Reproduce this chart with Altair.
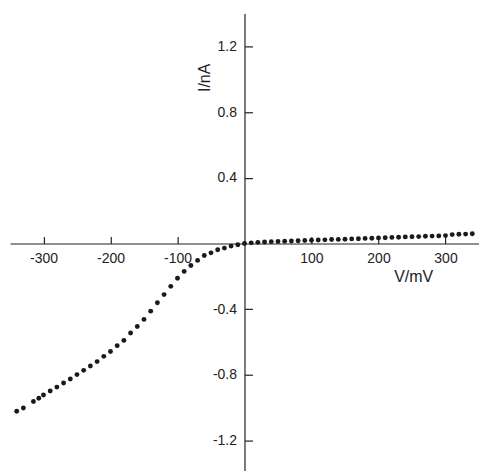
import altair as alt
import pandas as pd

# Voltage (mV) and current (nA)
voltage_mv = [-340, -330, -315, -307, -300, -290, -280, -270, -260, -250,
              -240, -230, -220, -210, -200, -190, -180, -170, -160, -150,
              -140, -130, -120, -110, -100, -90, -80, -70, -60, -50,
              -40, -30, -20, -10, 0,
              10, 20, 30, 40, 50, 60, 70, 80, 90, 100,
              110, 120, 130, 140, 150, 160, 170, 180, 190, 200,
              210, 220, 230, 240, 250, 260, 270, 280, 290, 300,
              310, 320, 330, 340]
current_na = [-1.021, -1.001, -0.962, -0.942, -0.922, -0.898, -0.874, -0.849, -0.825, -0.798,
              -0.772, -0.746, -0.719, -0.687, -0.657, -0.622, -0.590, -0.545, -0.505, -0.462,
              -0.412, -0.361, -0.311, -0.261, -0.212, -0.170, -0.134, -0.103, -0.073, -0.057,
              -0.038, -0.028, -0.016, -0.008, 0.000,
              0.004, 0.007, 0.009, 0.011, 0.012, 0.014, 0.015, 0.017, 0.018, 0.020,
              0.021, 0.022, 0.024, 0.025, 0.026, 0.028, 0.029, 0.031, 0.032, 0.034,
              0.035, 0.037, 0.038, 0.040, 0.041, 0.042, 0.044, 0.045, 0.046, 0.048,
              0.054, 0.056, 0.057, 0.059]

x_ticks = [-300, -200, -100, 100, 200, 300]
y_ticks = [-1.2, -0.8, -0.4, 0.4, 0.8, 1.2]

df = pd.DataFrame({"V": voltage_mv, "I": current_na})

W, H = 470, 461
FONT = "Liberation Sans"

chart = alt.Chart(df).mark_circle(size=24, color="#1a1a1a", opacity=1).encode(
    x=alt.X("V:Q",
            scale=alt.Scale(domain=[-350, 350], nice=False, zero=False),
            axis=alt.Axis(orient="top", offset=-H / 2, values=x_ticks,
                          grid=False, tickSize=7, tickColor="#222", domainColor="#222",
                          domainWidth=1.2, tickWidth=1.2,
                          labelBaseline="top", labelPadding=-15,
                          labelFont=FONT, labelFontSize=14, labelColor="#222",
                          labelExpr="datum.value < 0 ? '-' + format(-datum.value, 'd') : format(datum.value, 'd')",
                          title="V/mV", titleFont=FONT, titleFontSize=16, titleFontWeight="normal",
                          titleColor="#222", titleX=404, titleY=33, titleAlign="center",
                          titleBaseline="middle")),
    y=alt.Y("I:Q",
            scale=alt.Scale(domain=[-1.4, 1.4], nice=False, zero=False),
            axis=alt.Axis(orient="right", offset=-(W / 2), values=y_ticks,
                          grid=False, tickSize=8, tickColor="#222", domainColor="#222",
                          domainWidth=1.2, tickWidth=1.2,
                          labelAlign="right", labelPadding=-16, labelBaseline="middle",
                          labelFont=FONT, labelFontSize=14, labelColor="#222",
                          labelExpr="datum.value < 0 ? '-' + format(-datum.value, '.1f') : format(datum.value, '.1f')",
                          title="I/nA", titleFont=FONT, titleFontSize=16, titleFontWeight="normal",
                          titleColor="#222", titleX=-40, titleY=64, titleAngle=270,
                          titleAlign="center", titleBaseline="middle")),
).properties(
    width=W, height=H,
    background="white",
    padding={"left": 10, "top": 13, "right": 0, "bottom": 0},
    autosize=alt.AutoSizeParams(type="none"),
).configure_view(stroke=None)

chart.save("out.html", embed_options={"renderer": "svg", "actions": False})
